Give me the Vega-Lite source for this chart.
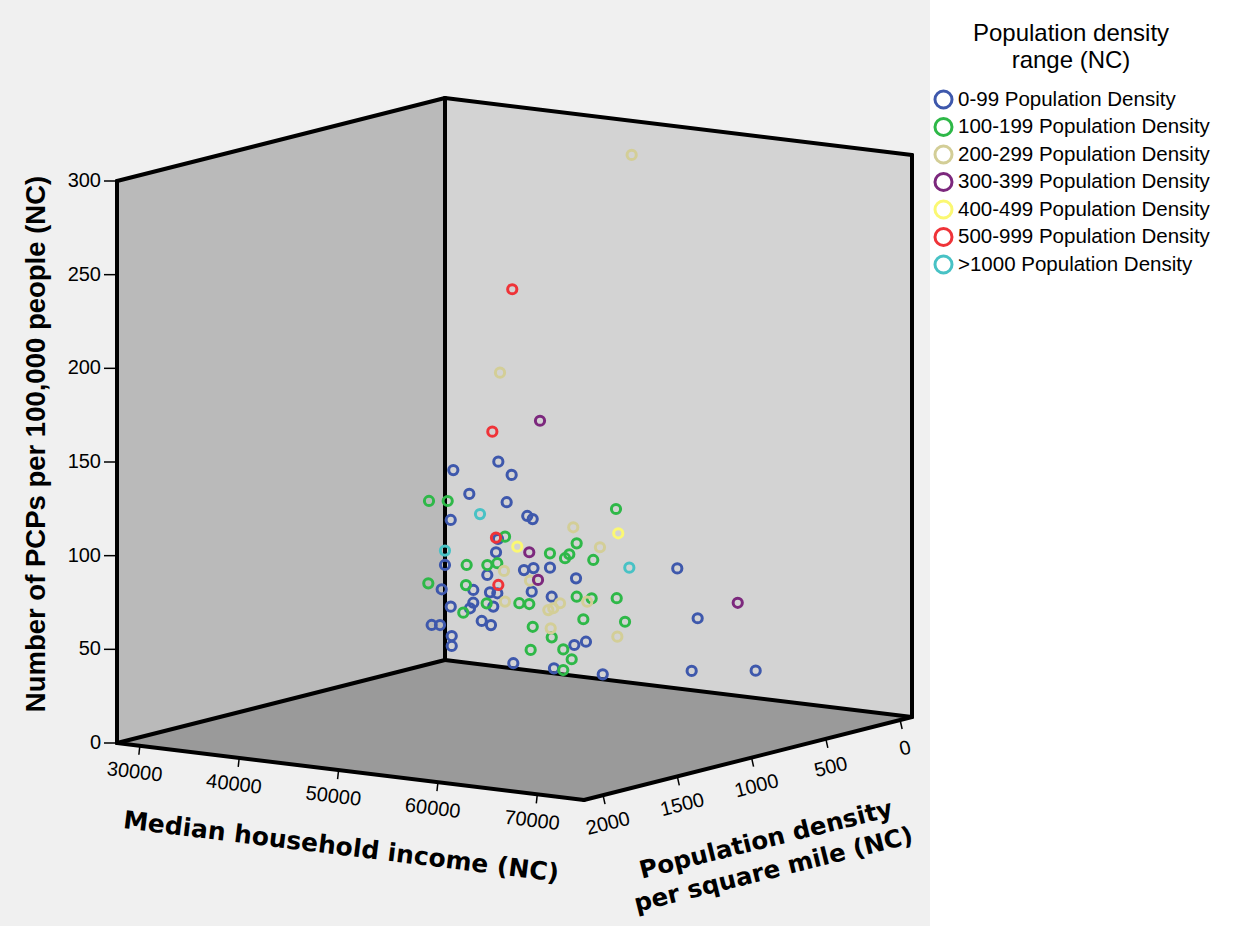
{
  "$schema": "https://vega.github.io/schema/vega-lite/v6.json",
  "width": 930,
  "height": 926,
  "autosize": {"type": "none"},
  "padding": {"left": 0, "top": 0, "right": 303, "bottom": 0},
  "background": "white",
  "config": {"view": {"stroke": null, "fill": "#f0f0f0"}},
  "datasets": {
    "points": [
      {"range": "0-99 Population Density", "density": 40, "income": 30330, "pcp": 105.5},
      {"range": "0-99 Population Density", "density": 60, "income": 35160, "pcp": 113.5},
      {"range": "0-99 Population Density", "density": 80, "income": 36800, "pcp": 107.9},
      {"range": "0-99 Population Density", "density": 40, "income": 31940, "pcp": 93.8},
      {"range": "0-99 Population Density", "density": 60, "income": 36000, "pcp": 92.4},
      {"range": "0-99 Population Density", "density": 80, "income": 38370, "pcp": 87.0},
      {"range": "0-99 Population Density", "density": 40, "income": 38320, "pcp": 84.5},
      {"range": "0-99 Population Density", "density": 60, "income": 30370, "pcp": 79.3},
      {"range": "0-99 Population Density", "density": 80, "income": 35430, "pcp": 72.8},
      {"range": "0-99 Population Density", "density": 40, "income": 34630, "pcp": 64.4},
      {"range": "0-99 Population Density", "density": 60, "income": 29790, "pcp": 54.9},
      {"range": "0-99 Population Density", "density": 80, "income": 38040, "pcp": 57.9},
      {"range": "0-99 Population Density", "density": 40, "income": 38400, "pcp": 58.4},
      {"range": "0-99 Population Density", "density": 60, "income": 40360, "pcp": 60.3},
      {"range": "0-99 Population Density", "density": 80, "income": 34350, "pcp": 52.9},
      {"range": "0-99 Population Density", "density": 40, "income": 29160, "pcp": 41.1},
      {"range": "0-99 Population Density", "density": 60, "income": 32640, "pcp": 43.4},
      {"range": "0-99 Population Density", "density": 80, "income": 34620, "pcp": 43.8},
      {"range": "0-99 Population Density", "density": 40, "income": 34760, "pcp": 42.6},
      {"range": "0-99 Population Density", "density": 60, "income": 38520, "pcp": 46.3},
      {"range": "0-99 Population Density", "density": 80, "income": 30670, "pcp": 33.6},
      {"range": "0-99 Population Density", "density": 40, "income": 32340, "pcp": 36.0},
      {"range": "0-99 Population Density", "density": 60, "income": 32310, "pcp": 33.4},
      {"range": "0-99 Population Density", "density": 80, "income": 34950, "pcp": 36.4},
      {"range": "0-99 Population Density", "density": 40, "income": 33190, "pcp": 26.8},
      {"range": "0-99 Population Density", "density": 60, "income": 34420, "pcp": 25.8},
      {"range": "0-99 Population Density", "density": 80, "income": 28750, "pcp": 22.6},
      {"range": "0-99 Population Density", "density": 40, "income": 28990, "pcp": 21.9},
      {"range": "0-99 Population Density", "density": 60, "income": 30470, "pcp": 17.4},
      {"range": "0-99 Population Density", "density": 80, "income": 30770, "pcp": 12.7},
      {"range": "0-99 Population Density", "density": 40, "income": 36370, "pcp": 6.3},
      {"range": "0-99 Population Density", "density": 60, "income": 42980, "pcp": 56.3},
      {"range": "0-99 Population Density", "density": 80, "income": 40830, "pcp": 45.5},
      {"range": "0-99 Population Density", "density": 40, "income": 42510, "pcp": 20.0},
      {"range": "0-99 Population Density", "density": 60, "income": 43980, "pcp": 23.1},
      {"range": "0-99 Population Density", "density": 80, "income": 41060, "pcp": 7.4},
      {"range": "0-99 Population Density", "density": 40, "income": 45370, "pcp": 6.2},
      {"range": "0-99 Population Density", "density": 60, "income": 53170, "pcp": 68.2},
      {"range": "0-99 Population Density", "density": 80, "income": 55520, "pcp": 43.5},
      {"range": "0-99 Population Density", "density": 40, "income": 54320, "pcp": 13.8},
      {"range": "0-99 Population Density", "density": 60, "income": 61060, "pcp": 18.7},
      {"range": "100-199 Population Density", "density": 120, "income": 29080, "pcp": 89.8},
      {"range": "100-199 Population Density", "density": 150, "income": 31410, "pcp": 91.9},
      {"range": "100-199 Population Density", "density": 180, "income": 37630, "pcp": 77.5},
      {"range": "100-199 Population Density", "density": 120, "income": 32870, "pcp": 58.1},
      {"range": "100-199 Population Density", "density": 150, "income": 35400, "pcp": 60.3},
      {"range": "100-199 Population Density", "density": 180, "income": 36850, "pcp": 62.8},
      {"range": "100-199 Population Density", "density": 120, "income": 47900, "pcp": 97.7},
      {"range": "100-199 Population Density", "density": 150, "income": 44390, "pcp": 77.7},
      {"range": "100-199 Population Density", "density": 180, "income": 42150, "pcp": 71.5},
      {"range": "100-199 Population Density", "density": 120, "income": 43200, "pcp": 70.5},
      {"range": "100-199 Population Density", "density": 150, "income": 43220, "pcp": 69.0},
      {"range": "100-199 Population Density", "density": 180, "income": 46510, "pcp": 70.8},
      {"range": "100-199 Population Density", "density": 120, "income": 29010, "pcp": 45.8},
      {"range": "100-199 Population Density", "density": 150, "income": 33250, "pcp": 48.2},
      {"range": "100-199 Population Density", "density": 180, "income": 35780, "pcp": 40.7},
      {"range": "100-199 Population Density", "density": 120, "income": 32530, "pcp": 32.4},
      {"range": "100-199 Population Density", "density": 150, "income": 38620, "pcp": 42.0},
      {"range": "100-199 Population Density", "density": 180, "income": 40070, "pcp": 43.1},
      {"range": "100-199 Population Density", "density": 120, "income": 39520, "pcp": 29.4},
      {"range": "100-199 Population Density", "density": 150, "income": 39760, "pcp": 17.8},
      {"range": "100-199 Population Density", "density": 180, "income": 44840, "pcp": 50.1},
      {"range": "100-199 Population Density", "density": 120, "income": 45450, "pcp": 48.4},
      {"range": "100-199 Population Density", "density": 150, "income": 48420, "pcp": 51.0},
      {"range": "100-199 Population Density", "density": 180, "income": 45510, "pcp": 38.5},
      {"range": "100-199 Population Density", "density": 120, "income": 48810, "pcp": 38.1},
      {"range": "100-199 Population Density", "density": 150, "income": 41880, "pcp": 25.9},
      {"range": "100-199 Population Density", "density": 180, "income": 43490, "pcp": 21.1},
      {"range": "100-199 Population Density", "density": 120, "income": 43440, "pcp": 14.6},
      {"range": "100-199 Population Density", "density": 150, "income": 43040, "pcp": 9.2},
      {"range": "200-299 Population Density", "density": 250, "income": 51420, "pcp": 291.6},
      {"range": "200-299 Population Density", "density": 220, "income": 37720, "pcp": 165.9},
      {"range": "200-299 Population Density", "density": 280, "income": 45990, "pcp": 89.9},
      {"range": "200-299 Population Density", "density": 220, "income": 47780, "pcp": 79.2},
      {"range": "200-299 Population Density", "density": 250, "income": 38570, "pcp": 61.2},
      {"range": "200-299 Population Density", "density": 280, "income": 41640, "pcp": 58.6},
      {"range": "200-299 Population Density", "density": 220, "income": 38220, "pcp": 44.0},
      {"range": "200-299 Population Density", "density": 250, "income": 46950, "pcp": 50.2},
      {"range": "200-299 Population Density", "density": 280, "income": 43480, "pcp": 44.1},
      {"range": "200-299 Population Density", "density": 220, "income": 43080, "pcp": 43.6},
      {"range": "200-299 Population Density", "density": 250, "income": 44210, "pcp": 47.6},
      {"range": "200-299 Population Density", "density": 280, "income": 43720, "pcp": 34.5},
      {"range": "200-299 Population Density", "density": 220, "income": 49530, "pcp": 32.6},
      {"range": "300-399 Population Density", "density": 350, "income": 43690, "pcp": 146.7},
      {"range": "300-399 Population Density", "density": 330, "income": 42310, "pcp": 75.2},
      {"range": "300-399 Population Density", "density": 370, "income": 43790, "pcp": 62.2},
      {"range": "300-399 Population Density", "density": 350, "income": 63590, "pcp": 62.4},
      {"range": "400-499 Population Density", "density": 430, "income": 42600, "pcp": 80.4},
      {"range": "400-499 Population Density", "density": 470, "income": 53360, "pcp": 95.3},
      {"range": "500-999 Population Density", "density": 700, "income": 46130, "pcp": 225.5},
      {"range": "500-999 Population Density", "density": 600, "income": 42630, "pcp": 145.2},
      {"range": "500-999 Population Density", "density": 750, "income": 45240, "pcp": 93.3},
      {"range": "500-999 Population Density", "density": 850, "income": 46970, "pcp": 71.2},
      {"range": ">1000 Population Density", "density": 1800, "income": 59330, "pcp": 136.1},
      {"range": ">1000 Population Density", "density": 1050, "income": 44590, "pcp": 92.0},
      {"range": ">1000 Population Density", "density": 1150, "income": 64640, "pcp": 97.9}
    ],
    "faces": [
      {"face": "left", "ord": 1, "income": 27700, "density": 2128, "pcp": 0},
      {"face": "left", "ord": 2, "income": 27700, "density": 2128, "pcp": 300},
      {"face": "left", "ord": 3, "income": 27700, "density": -80, "pcp": 300},
      {"face": "left", "ord": 4, "income": 27700, "density": -80, "pcp": 0},
      {"face": "back", "ord": 1, "income": 27700, "density": -80, "pcp": 0},
      {"face": "back", "ord": 2, "income": 27700, "density": -80, "pcp": 300},
      {"face": "back", "ord": 3, "income": 74700, "density": -80, "pcp": 300},
      {"face": "back", "ord": 4, "income": 74700, "density": -80, "pcp": 0},
      {"face": "floor", "ord": 1, "income": 27700, "density": 2128, "pcp": 0},
      {"face": "floor", "ord": 2, "income": 27700, "density": -80, "pcp": 0},
      {"face": "floor", "ord": 3, "income": 74700, "density": -80, "pcp": 0},
      {"face": "floor", "ord": 4, "income": 74700, "density": 2128, "pcp": 0}
    ],
    "edges": [
      {"i1": 27700, "d1": 2128, "p1": 0, "i2": 27700, "d2": 2128, "p2": 300},
      {"i1": 27700, "d1": 2128, "p1": 300, "i2": 27700, "d2": -80, "p2": 300},
      {"i1": 27700, "d1": -80, "p1": 0, "i2": 27700, "d2": -80, "p2": 300},
      {"i1": 27700, "d1": -80, "p1": 300, "i2": 74700, "d2": -80, "p2": 300},
      {"i1": 74700, "d1": -80, "p1": 0, "i2": 74700, "d2": -80, "p2": 300},
      {"i1": 27700, "d1": 2128, "p1": 0, "i2": 27700, "d2": -80, "p2": 0},
      {"i1": 27700, "d1": -80, "p1": 0, "i2": 74700, "d2": -80, "p2": 0},
      {"i1": 27700, "d1": 2128, "p1": 0, "i2": 74700, "d2": 2128, "p2": 0},
      {"i1": 74700, "d1": 2128, "p1": 0, "i2": 74700, "d2": -80, "p2": 0}
    ],
    "ticks": [
      {"axis": "pcp", "income": 27700, "density": 2128, "pcp": 0, "label": "0"},
      {"axis": "pcp", "income": 27700, "density": 2128, "pcp": 50, "label": "50"},
      {"axis": "pcp", "income": 27700, "density": 2128, "pcp": 100, "label": "100"},
      {"axis": "pcp", "income": 27700, "density": 2128, "pcp": 150, "label": "150"},
      {"axis": "pcp", "income": 27700, "density": 2128, "pcp": 200, "label": "200"},
      {"axis": "pcp", "income": 27700, "density": 2128, "pcp": 250, "label": "250"},
      {"axis": "pcp", "income": 27700, "density": 2128, "pcp": 300, "label": "300"},
      {"axis": "income", "income": 30000, "density": 2128, "pcp": 0, "label": "30000"},
      {"axis": "income", "income": 40000, "density": 2128, "pcp": 0, "label": "40000"},
      {"axis": "income", "income": 50000, "density": 2128, "pcp": 0, "label": "50000"},
      {"axis": "income", "income": 60000, "density": 2128, "pcp": 0, "label": "60000"},
      {"axis": "income", "income": 70000, "density": 2128, "pcp": 0, "label": "70000"},
      {"axis": "density", "income": 74700, "density": 0, "pcp": 0, "label": "0"},
      {"axis": "density", "income": 74700, "density": 500, "pcp": 0, "label": "500"},
      {"axis": "density", "income": 74700, "density": 1000, "pcp": 0, "label": "1000"},
      {"axis": "density", "income": 74700, "density": 1500, "pcp": 0, "label": "1500"},
      {"axis": "density", "income": 74700, "density": 2000, "pcp": 0, "label": "2000"}
    ],
    "titles": [
      {"axis": "income", "income": 51180, "density": 2128, "pcp": 0, "title": "Median household income (NC)"},
      {"axis": "density", "income": 74700, "density": 1025, "pcp": 0, "title": "Population density\nper square mile (NC)"},
      {"axis": "pcp", "income": 27700, "density": 2128, "pcp": 150, "title": "Number of PCPs per 100,000 people (NC)"}
    ]
  },
  "encoding": {
    "x": {"field": "sx", "type": "quantitative", "scale": {"domain": [0, 930], "nice": false, "zero": false}, "axis": null},
    "y": {"field": "sy", "type": "quantitative", "scale": {"domain": [0, 926], "reverse": true, "nice": false, "zero": false}, "axis": null}
  },
  "layer": [
    {
      "data": {"name": "faces"},
      "transform": [
        {"filter": "datum.face === 'floor'"},
        {"calculate": "445 + 467*(datum.income-27700)/47000 - 328*(datum.density+80)/2208", "as": "sx"},
        {"calculate": "660 + 57*(datum.income-27700)/47000 + 83*(datum.density+80)/2208 - 562*datum.pcp/300", "as": "sy"}
      ],
      "mark": {"type": "line", "interpolate": "linear-closed", "fill": "#9a9a9a", "stroke": "#9a9a9a", "strokeWidth": 1},
      "encoding": {"order": {"field": "ord", "type": "quantitative"}}
    },
    {
      "data": {"name": "faces"},
      "transform": [
        {"filter": "datum.face === 'left'"},
        {"calculate": "445 + 467*(datum.income-27700)/47000 - 328*(datum.density+80)/2208", "as": "sx"},
        {"calculate": "660 + 57*(datum.income-27700)/47000 + 83*(datum.density+80)/2208 - 562*datum.pcp/300", "as": "sy"}
      ],
      "mark": {"type": "line", "interpolate": "linear-closed", "fill": "#bababa", "stroke": "#bababa", "strokeWidth": 1},
      "encoding": {"order": {"field": "ord", "type": "quantitative"}}
    },
    {
      "data": {"name": "faces"},
      "transform": [
        {"filter": "datum.face === 'back'"},
        {"calculate": "445 + 467*(datum.income-27700)/47000 - 328*(datum.density+80)/2208", "as": "sx"},
        {"calculate": "660 + 57*(datum.income-27700)/47000 + 83*(datum.density+80)/2208 - 562*datum.pcp/300", "as": "sy"}
      ],
      "mark": {"type": "line", "interpolate": "linear-closed", "fill": "#d3d3d3", "stroke": "#d3d3d3", "strokeWidth": 1},
      "encoding": {"order": {"field": "ord", "type": "quantitative"}}
    },
    {
      "data": {"name": "edges"},
      "transform": [
        {"calculate": "445 + 467*(datum.i1-27700)/47000 - 328*(datum.d1+80)/2208", "as": "sx"},
        {"calculate": "660 + 57*(datum.i1-27700)/47000 + 83*(datum.d1+80)/2208 - 562*datum.p1/300", "as": "sy"},
        {"calculate": "445 + 467*(datum.i2-27700)/47000 - 328*(datum.d2+80)/2208", "as": "sx2"},
        {"calculate": "660 + 57*(datum.i2-27700)/47000 + 83*(datum.d2+80)/2208 - 562*datum.p2/300", "as": "sy2"}
      ],
      "mark": {"type": "rule", "color": "#000000", "strokeWidth": 4, "strokeCap": "round"},
      "encoding": {"x2": {"field": "sx2"}, "y2": {"field": "sy2"}}
    },
    {
      "data": {"name": "ticks"},
      "transform": [
        {"filter": "datum.axis === 'pcp'"},
        {"calculate": "445 + 467*(datum.income-27700)/47000 - 328*(datum.density+80)/2208", "as": "sx"},
        {"calculate": "660 + 57*(datum.income-27700)/47000 + 83*(datum.density+80)/2208 - 562*datum.pcp/300", "as": "sy"}
      ],
      "layer": [
        {"mark": {"type": "rule", "color": "#000000", "strokeWidth": 1.5, "x2Offset": -13}, "encoding": {"x2": {"field": "sx"}, "y2": {"field": "sy"}}},
        {"mark": {"type": "text", "align": "right", "baseline": "middle", "dx": -16, "font": "Liberation Sans", "fontSize": 20, "color": "#000000"}, "encoding": {"text": {"field": "label"}}}
      ]
    },
    {
      "data": {"name": "ticks"},
      "transform": [
        {"filter": "datum.axis === 'income'"},
        {"calculate": "445 + 467*(datum.income-27700)/47000 - 328*(datum.density+80)/2208", "as": "sx"},
        {"calculate": "660 + 57*(datum.income-27700)/47000 + 83*(datum.density+80)/2208 - 562*datum.pcp/300", "as": "sy"}
      ],
      "layer": [
        {"mark": {"type": "rule", "color": "#000000", "strokeWidth": 1.5, "x2Offset": -1, "y2Offset": 9}, "encoding": {"x2": {"field": "sx"}, "y2": {"field": "sy"}}},
        {"mark": {"type": "text", "align": "center", "baseline": "middle", "angle": 7, "dx": -2, "dy": 27, "font": "Liberation Sans", "fontSize": 20, "color": "#000000"}, "encoding": {"text": {"field": "label"}}}
      ]
    },
    {
      "data": {"name": "ticks"},
      "transform": [
        {"filter": "datum.axis === 'density'"},
        {"calculate": "445 + 467*(datum.income-27700)/47000 - 328*(datum.density+80)/2208", "as": "sx"},
        {"calculate": "660 + 57*(datum.income-27700)/47000 + 83*(datum.density+80)/2208 - 562*datum.pcp/300", "as": "sy"}
      ],
      "layer": [
        {"mark": {"type": "rule", "color": "#000000", "strokeWidth": 1.5, "x2Offset": 2, "y2Offset": 9}, "encoding": {"x2": {"field": "sx"}, "y2": {"field": "sy"}}},
        {"mark": {"type": "text", "align": "center", "baseline": "middle", "angle": 346, "dx": -2, "dy": 29, "font": "Liberation Sans", "fontSize": 20, "color": "#000000"}, "encoding": {"text": {"field": "label"}}}
      ]
    },
    {
      "data": {"name": "titles"},
      "transform": [
        {"filter": "datum.axis === 'income'"},
        {"calculate": "445 + 467*(datum.income-27700)/47000 - 328*(datum.density+80)/2208", "as": "sx"},
        {"calculate": "660 + 57*(datum.income-27700)/47000 + 83*(datum.density+80)/2208 - 562*datum.pcp/300", "as": "sy"}
      ],
      "mark": {"type": "text", "align": "center", "baseline": "middle", "angle": 7, "dy": 76, "font": "DejaVu Sans", "fontWeight": "bold", "fontSize": 25, "color": "#000000"},
      "encoding": {"text": {"field": "title"}}
    },
    {
      "data": {"name": "titles"},
      "transform": [
        {"filter": "datum.axis === 'density'"},
        {"calculate": "445 + 467*(datum.income-27700)/47000 - 328*(datum.density+80)/2208", "as": "sx"},
        {"calculate": "660 + 57*(datum.income-27700)/47000 + 83*(datum.density+80)/2208 - 562*datum.pcp/300", "as": "sy"}
      ],
      "mark": {"type": "text", "align": "center", "baseline": "middle", "angle": 346, "dx": -2, "dy": 84, "lineBreak": "\n", "lineHeight": 31, "font": "DejaVu Sans", "fontWeight": "bold", "fontSize": 24.5, "color": "#000000"},
      "encoding": {"text": {"field": "title"}}
    },
    {
      "data": {"name": "titles"},
      "transform": [
        {"filter": "datum.axis === 'pcp'"},
        {"calculate": "445 + 467*(datum.income-27700)/47000 - 328*(datum.density+80)/2208", "as": "sx"},
        {"calculate": "660 + 57*(datum.income-27700)/47000 + 83*(datum.density+80)/2208 - 562*datum.pcp/300", "as": "sy"}
      ],
      "mark": {"type": "text", "align": "center", "baseline": "alphabetic", "angle": 270, "dx": 18, "dy": -72, "font": "Liberation Sans", "fontWeight": "bold", "fontSize": 27.5, "color": "#000000"},
      "encoding": {"text": {"field": "title"}}
    },
    {
      "data": {"name": "points"},
      "transform": [
        {"calculate": "445 + 467*(datum.income-27700)/47000 - 328*(datum.density+80)/2208", "as": "sx"},
        {"calculate": "660 + 57*(datum.income-27700)/47000 + 83*(datum.density+80)/2208 - 562*datum.pcp/300", "as": "sy"}
      ],
      "mark": {"type": "point", "shape": "circle", "filled": false, "size": 85, "strokeWidth": 3, "opacity": 1},
      "encoding": {
        "color": {
          "field": "range",
          "type": "nominal",
          "scale": {
            "domain": ["0-99 Population Density", "100-199 Population Density", "200-299 Population Density", "300-399 Population Density", "400-499 Population Density", "500-999 Population Density", ">1000 Population Density"],
            "range": ["#3E58AC", "#2EB848", "#D3CE97", "#7C287D", "#FBF873", "#EF3338", "#48C2C5"]
          },
          "legend": {
            "orient": "none",
            "legendX": 933,
            "legendY": 22,
            "padding": 0,
            "title": ["Population density", "range (NC)"],
            "titleFont": "Liberation Sans",
            "titleFontSize": 24,
            "titleFontWeight": "normal",
            "titleColor": "#000000",
            "titleAnchor": "middle",
            "titleAlign": "center",
            "titleLineHeight": 27,
            "titlePadding": 16,
            "titleLimit": 0,
            "labelFont": "Liberation Sans",
            "labelFontSize": 20.5,
            "labelColor": "#000000",
            "labelLimit": 0,
            "labelOffset": 4,
            "symbolType": "circle",
            "symbolSize": 290,
            "symbolStrokeWidth": 3,
            "rowPadding": -3.5
          }
        }
      }
    }
  ]
}
